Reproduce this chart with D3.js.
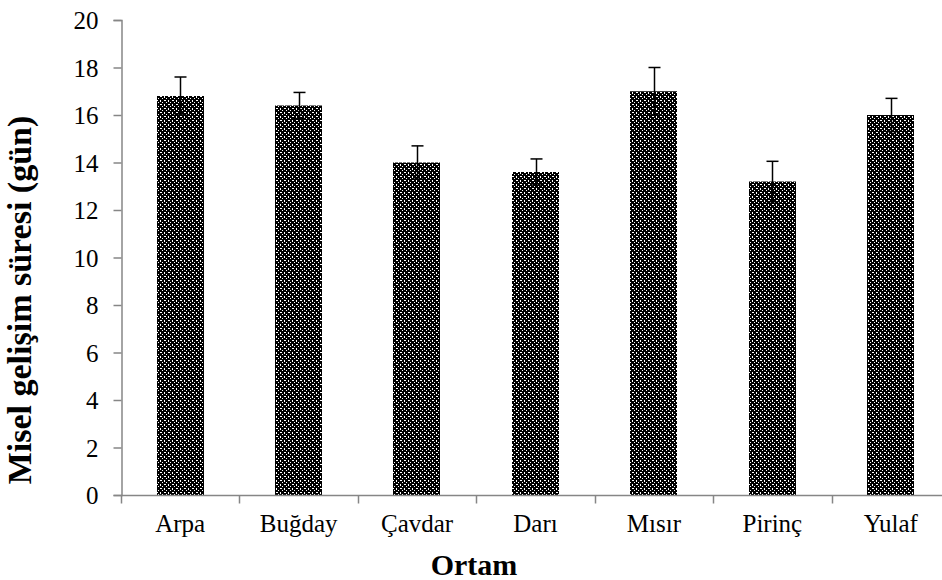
<!DOCTYPE html>
<html>
<head>
<meta charset="utf-8">
<script src="https://cdn.jsdelivr.net/npm/d3@7/dist/d3.min.js"></script>
<style>
  html, body { margin: 0; padding: 0; background: #fff; }
  svg { display: block; }
  text { font-family: "Liberation Serif", "Times New Roman", serif; fill: #000; }
</style>
</head>
<body>
<svg id="chart" width="942" height="580"></svg>
<script>
// Growth medium categories
const categories = ["Arpa", "Buğday", "Çavdar", "Darı", "Mısır", "Pirinç", "Yulaf"];
// Mean mycelial development time (days)
const means = [16.8, 16.4, 14.0, 13.6, 17.0, 13.2, 16.0];
// Error (±) for each mean
const errors = [0.8, 0.55, 0.7, 0.55, 1.0, 0.85, 0.7];
// Y-axis ticks
const yTicks = [0, 2, 4, 6, 8, 10, 12, 14, 16, 18, 20];

const svg = d3.select("#chart");
const plot = { left: 121, right: 950, top: 20, bottom: 495 };
const fontSize = "25px";
const titleSize = "30px";

const x = d3.scaleBand().domain(categories).range([plot.left, plot.right]).paddingInner(0).paddingOuter(0);
const y = d3.scaleLinear().domain([0, 20]).range([plot.bottom, plot.top]);

// Fill pattern: black crosses with small white gaps, 8px tile
const defs = svg.append("defs");
const pat = defs.append("pattern")
  .attr("id", "hatch").attr("patternUnits", "userSpaceOnUse")
  .attr("width", 8).attr("height", 8);
pat.append("rect").attr("width", 8).attr("height", 8).attr("fill", "#000");
const gaps = [
  [0, 0, 2, 1], [0, 4, 1, 2], [4, 0, 1, 2], [4, 4, 2, 1],
  [6, 2, 1, 1], [2, 6, 1, 1], [6, 6, 1, 1], [2, 2, 1, 1]
];
gaps.forEach(b => pat.append("rect")
  .attr("x", b[0]).attr("y", b[1]).attr("width", b[2]).attr("height", b[3]).attr("fill", "#fff"));

const barW = x.bandwidth() * 0.4;

// Bars
svg.append("g").selectAll("rect")
  .data(categories)
  .join("rect")
  .attr("x", (d) => Math.round(x(d) + x.bandwidth() / 2 - barW / 2))
  .attr("y", (d, i) => y(means[i]))
  .attr("width", Math.round(barW))
  .attr("height", (d, i) => y(0) - y(means[i]))
  .attr("fill", "url(#hatch)");

// Error bars
const eb = svg.append("g").attr("stroke", "#000").attr("stroke-width", 1.5);
categories.forEach((c, i) => {
  const cx = Math.round(x(c) + x.bandwidth() / 2) + 0.5;
  eb.append("line").attr("x1", cx).attr("x2", cx)
    .attr("y1", y(means[i] - errors[i])).attr("y2", y(means[i] + errors[i]));
  [means[i] + errors[i], means[i] - errors[i]].forEach(v => {
    eb.append("line").attr("x1", cx - 6).attr("x2", cx + 6)
      .attr("y1", y(v)).attr("y2", y(v));
  });
});

// Y axis
const yAxis = svg.append("g")
  .attr("transform", `translate(${plot.left + 0.5},0)`)
  .call(d3.axisLeft(y).tickValues(yTicks).tickSize(8).tickPadding(15).tickFormat(d3.format("d")));
yAxis.select(".domain").attr("stroke", "#868686").attr("stroke-width", 1.5);
yAxis.selectAll(".tick line").attr("stroke", "#868686").attr("stroke-width", 1.5);
yAxis.selectAll("text").style("font-size", fontSize).style("font-family", "Liberation Serif").attr("dy", "0.34em");

// X axis with ticks at category boundaries
const xAxis = svg.append("g").attr("transform", `translate(0,${plot.bottom + 0.5})`);
xAxis.append("line").attr("x1", plot.left).attr("x2", plot.right)
  .attr("stroke", "#868686").attr("stroke-width", 1.5);
const bounds = categories.map(c => x(c)).concat([plot.right]);
xAxis.selectAll("line.tk").data(bounds).join("line").attr("class", "tk")
  .attr("x1", d => Math.round(d) + 0.5).attr("x2", d => Math.round(d) + 0.5)
  .attr("y1", 0).attr("y2", 8)
  .attr("stroke", "#868686").attr("stroke-width", 1.5);
xAxis.selectAll("text").data(categories).join("text")
  .attr("x", d => x(d) + x.bandwidth() / 2)
  .attr("y", 36)
  .attr("text-anchor", "middle")
  .style("font-size", fontSize)
  .text(d => d);

// Axis titles
svg.append("text")
  .attr("x", 474).attr("y", 575)
  .attr("text-anchor", "middle")
  .style("font-size", titleSize).style("font-weight", "bold")
  .text("Ortam");

svg.append("text")
  .attr("transform", `translate(31,300) rotate(-90)`)
  .attr("text-anchor", "middle")
  .style("font-size", "34px").style("font-weight", "bold")
  .text("Misel gelişim süresi (gün)");
</script>
</body>
</html>
